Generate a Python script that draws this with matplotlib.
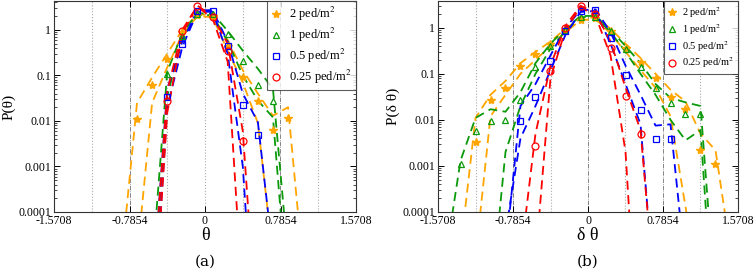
import numpy as np
import matplotlib
matplotlib.use('Agg')
import matplotlib.pyplot as plt
from matplotlib.ticker import FixedLocator, FixedFormatter, LogLocator, NullFormatter

plt.rcParams['font.family'] = ['Liberation Serif', 'DejaVu Serif']
plt.rcParams['mathtext.fontset'] = 'stix'

nan = np.nan

# bin centres (rad)
bins_a = [-0.864, -0.707, -0.550, -0.393, -0.236, -0.0785, 0.0785, 0.236, 0.393, 0.550, 0.707, 0.864, 1.021]
bins_b = [-1.492, -1.335, -1.178, -1.021, -0.864, -0.707, -0.550, -0.393, -0.236, -0.0785,
          0.0785, 0.236, 0.393, 0.550, 0.707, 0.864, 1.021, 1.178, 1.335, 1.492]

labels = ['2 ped/m$^2$', '1 ped/m$^2$', '0.5 ped/m$^2$', '0.25 ped/m$^2$']

# panel (a): P(theta)
a_2_mean = [nan, 0.011, 0.062, 0.23, 0.9, 2.1, 2.0, 0.45, 0.094, 0.027, 0.0062, 0.0115, nan]
a_2_hi = [1.1e-5, 0.025, 0.09, 0.3, 1.0, 2.2, 2.1, 0.6, 0.13, 0.04, 0.013, 0.02, 6e-6]
a_2_lo = [nan, 1e-5, 0.025, 0.15, 0.8, 2.0, 1.9, 0.35, 0.07, 0.009, 1e-5, nan, nan]

a_1_mean = [nan, nan, nan, 0.107, 0.75, 2.2, 2.2, 0.8, 0.21, 0.062, 0.027, nan, nan]
a_1_hi = [nan, nan, 6e-6, 0.12, 0.85, 2.3, 2.3, 0.95, 0.35, 0.14, 0.05, 1e-5, nan]
a_1_lo = [nan, nan, 1e-6, 0.035, 0.65, 2.1, 2.1, 0.55, 0.1, 0.028, 0.012, 1e-6, nan]

a_05_mean = [nan, nan, nan, 0.033, 0.49, 2.6, 2.6, 0.45, 0.022, 0.0048, nan, nan, nan]
a_05_hi = [nan, nan, 1e-6, 0.05, 0.55, 2.7, 2.7, 0.55, 0.04, 0.0094, 1.1e-5, nan, nan]
a_05_lo = [nan, nan, 1e-7, 0.02, 0.42, 2.5, 2.5, 0.3, 0.001, 1e-8, nan, nan, nan]

a_025_mean = [nan, nan, nan, 0.028, 0.92, 3.3, 1.9, 0.35, 0.0036, nan, nan, nan, nan]
a_025_hi = [nan, nan, 1e-6, 0.045, 1.0, 3.4, 2.0, 0.5, 0.006, 1e-7, nan, nan, nan]
a_025_lo = [nan, nan, 1e-7, 0.015, 0.85, 3.2, 1.8, 0.2, 1e-6, nan, nan, nan, nan]

# panel (b): P(delta theta)
b_2_mean = [nan, nan, 0.0033, 0.027, 0.048, 0.15, 0.27, 0.45, 0.85, 1.5, 1.65, 0.85, 0.37, 0.18, 0.08, 0.032, 0.017, 0.0022, 0.0011, nan]
b_2_hi = [nan, 1.5e-5, 0.011, 0.035, 0.07, 0.17, 0.3, 0.5, 0.95, 1.6, 1.7, 0.95, 0.45, 0.22, 0.1, 0.045, 0.025, 0.005, 0.0022, 1.5e-5]
b_2_lo = [nan, nan, 1e-5, 0.012, 0.035, 0.1, 0.2, 0.4, 0.8, 1.45, 1.55, 0.75, 0.3, 0.12, 0.05, 0.012, 1.3e-4, 1e-6, nan, nan]

b_1_mean = [nan, 0.0011, 0.0057, 0.0094, 0.01, 0.027, 0.14, 0.4, 0.9, 1.75, 1.75, 0.85, 0.35, 0.14, 0.049, 0.023, 0.0135, 0.0135, nan, nan]
b_1_hi = [1e-5, 0.0013, 0.011, 0.017, 0.015, 0.04, 0.17, 0.45, 0.95, 1.8, 1.8, 0.9, 0.4, 0.17, 0.06, 0.03, 0.024, 0.02, 1e-6, nan]
b_1_lo = [nan, nan, nan, 1e-6, 0.002, 0.02, 0.1, 0.35, 0.85, 1.7, 1.7, 0.8, 0.3, 0.1, 0.035, 0.01, 0.0036, 0.006, 1e-7, nan]

b_05_mean = [nan, nan, nan, nan, nan, 0.0094, 0.032, 0.19, 0.85, 2.3, 2.4, 0.59, 0.095, 0.016, 0.0038, 0.0038, nan, nan, nan, nan]
b_05_hi = [nan, nan, nan, nan, 1.3e-5, 0.02, 0.06, 0.25, 1.0, 2.4, 2.5, 0.8, 0.15, 0.035, 0.0075, 0.008, 6e-6, nan, nan, nan]
b_05_lo = [nan, nan, nan, nan, 3.5e-5, 0.004, 0.02, 0.12, 0.7, 2.2, 2.3, 0.45, 0.06, 0.008, 1e-6, nan, nan, nan, nan, nan]

b_025_mean = [nan, nan, nan, nan, nan, nan, 0.0027, 0.116, 1.0, 2.9, 1.95, 0.37, 0.033, 0.005, nan, nan, nan, nan, nan, nan]
b_025_hi = [nan, nan, nan, nan, nan, 1e-5, 0.005, 0.15, 1.1, 3.0, 2.1, 0.5, 0.05, 0.006, 1e-6, nan, nan, nan, nan, nan]
b_025_lo = [nan, nan, nan, nan, nan, nan, 8.5e-6, 0.08, 0.9, 2.8, 1.8, 0.25, 0.002, 1e-8, nan, nan, nan, nan, nan, nan]

colors = ['#ffa500', '#0a9a0a', '#0000ff', '#ff0000']
markers = ['*', '^', 's', 'o']

fig = plt.figure(figsize=(7.55, 2.72), dpi=100)
ax_a = fig.add_axes([54/755, 60/272, 302/755, 211/272])
ax_b = fig.add_axes([438/755, 60/272, 300/755, 211/272])

series_a = [(a_2_mean, a_2_hi, a_2_lo), (a_1_mean, a_1_hi, a_1_lo),
            (a_05_mean, a_05_hi, a_05_lo), (a_025_mean, a_025_hi, a_025_lo)]
series_b = [(b_2_mean, b_2_hi, b_2_lo), (b_1_mean, b_1_hi, b_1_lo),
            (b_05_mean, b_05_hi, b_05_lo), (b_025_mean, b_025_hi, b_025_lo)]

q = np.pi / 8


def draw(ax, bins, series, top, zero_style, legsize, legsp, xlab, ylab, tag):
    # guide lines
    for k in [-3, -1, 1, 3]:
        ax.axvline(k * q, color='#aaaaaa', lw=0.8, ls=':', zorder=0)
    for k in [-2, 2]:
        ax.axvline(k * q, color='#555555', lw=0.5, ls='-.', zorder=0)
    if zero_style == 'dd':
        ax.axvline(0, color='#555555', lw=0.5, ls='-.', zorder=0)
    else:
        ax.axvline(0, color='#aaaaaa', lw=0.8, ls=':', zorder=0)

    for (m, hi, lo), c, mk, lab in zip(series, colors, markers, labels):
        ax.plot(bins, hi, color=c, lw=1.3, ls=(0, (5, 3)))
        ax.plot(bins, lo, color=c, lw=1.3, ls=(0, (5, 3)))
    for (m, hi, lo), c, mk, lab in zip(series, colors, markers, labels):
        if mk == '*':
            ax.plot(bins, m, ls='none', marker=mk, ms=6, color=c, mec=c, label=lab)
        else:
            ax.plot(bins, m, ls='none', marker=mk, ms=5, mfc='none', mec=c, mew=0.9, label=lab)

    ax.set_yscale('log')
    ax.set_ylim(1e-4, top)
    ax.set_xlim(-1.5708, 1.5708)
    ax.xaxis.set_major_locator(FixedLocator([-1.5708, -0.7854, 0, 0.7854, 1.5708]))
    ax.xaxis.set_major_formatter(FixedFormatter(['-1.5708', '-0.7854', '0', '0.7854', '1.5708']))
    ax.yaxis.set_major_locator(FixedLocator([1e-4, 1e-3, 1e-2, 1e-1, 1]))
    ax.yaxis.set_major_formatter(FixedFormatter(['0.0001', '0.001', '0.01', '0.1', '1']))
    ax.yaxis.set_minor_locator(LogLocator(base=10, subs=np.arange(2, 10)))
    ax.yaxis.set_minor_formatter(NullFormatter())
    ax.tick_params(which='both', direction='in', right=True, top=True, labelsize=8.5, pad=2)
    ax.tick_params(which='major', length=4, width=0.7)
    ax.tick_params(which='minor', length=2, width=0.5)
    for s in ax.spines.values():
        s.set_linewidth(0.8)
        s.set_color('#333333')

    ax.set_xlabel(xlab, fontsize=13, labelpad=0)
    ax.set_ylabel(ylab, fontsize=11, labelpad=2)
    leg = ax.legend(loc='upper right', fontsize=legsize, frameon=True, fancybox=False,
                    edgecolor='#333333', borderaxespad=0, handlelength=0.8,
                    handletextpad=0.6, borderpad=0.35, labelspacing=legsp)
    leg.get_frame().set_linewidth(0.8)
    ax.text(0.5, -0.237, tag, transform=ax.transAxes, ha='center', va='center',
            fontsize=11, family='DejaVu Serif')


draw(ax_a, bins_a, series_a, 4.3, 'dot', 9, 0.22, 'θ', 'P(θ)', '(a)')
draw(ax_b, bins_b, series_b, 3.8, 'dd', 7.5, 0.2, 'δ θ', 'P(δ θ)', '(b)')

fig.savefig('out.png', dpi=100)
